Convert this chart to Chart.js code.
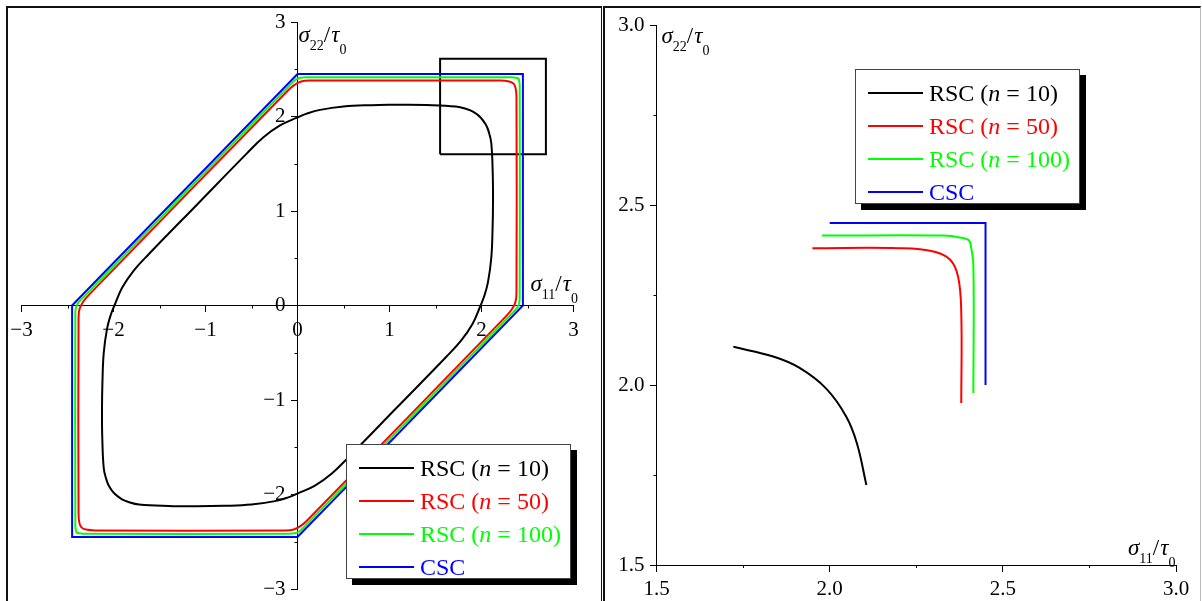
<!DOCTYPE html>
<html>
<head>
<meta charset="utf-8">
<script src="https://cdn.jsdelivr.net/npm/chart.js@4.4.1/dist/chart.umd.min.js"></script>
<style>
body{margin:0;background:#fff;width:1202px;height:601px;overflow:hidden;position:relative;font-family:"Liberation Serif",serif;}
.frame{position:absolute;top:6px;height:601px;border-top:2px solid #111;box-sizing:border-box;}
#frameL{left:6px;width:596px;border-left:2px solid #111;border-right:1px solid #111;}
#frameR{left:603px;width:598px;border-left:2px solid #111;border-right:1px solid #bbb;}
canvas{position:absolute;top:0;}
#cL{left:0;}
#cR{left:607px;}
.legend{position:absolute;width:225px;height:135px;background:#fff;border:1px solid #444;box-shadow:6px 6px 0 #000;box-sizing:border-box;font-size:24px;}
.legend .row{position:absolute;left:0;height:30px;line-height:30px;white-space:nowrap;}
.legend .swatch{position:absolute;left:12px;top:14px;width:55px;height:2px;}
.legend .txt{position:absolute;left:73px;top:0;}
</style>
</head>
<body>
<div class="frame" id="frameL"></div>
<div class="frame" id="frameR"></div>
<canvas id="cL" width="602" height="601"></canvas>
<canvas id="cR" width="595" height="601"></canvas>
<div class="legend" id="legL" style="left:346px;top:444px;"></div>
<div class="legend" id="legR" style="left:855px;top:69px;"></div>
<script>
// axis ticks
const leftTicks = [-3, -2, -1, 0, 1, 2, 3];
const leftMinor = [-2.5, -1.5, -0.5, 0.5, 1.5, 2.5];
const rightTicks = [1.5, 2.0, 2.5, 3.0];
const rightMinor = [1.75, 2.25, 2.75];

const seriesNames = ['RSC (n = 10)', 'RSC (n = 50)', 'RSC (n = 100)', 'CSC'];
const seriesColors = ['#000000', '#ff0000', '#00ff00', '#0000ff'];

// whole yield surfaces (sigma11/tau0, sigma22/tau0), left panel
const rsc10 = [[1.1,2.125],[1.4,2.122],[1.722,2.106],[1.837,2.079],[1.912,2.048],[1.99,1.99],[2.048,1.912],[2.079,1.837],[2.106,1.722],[2.122,1.4],[2.125,1.1],[2.12,0.8],[2.106,0.5],[2.07,0.245],[2.03,0.1],[1.99,0],[1.905,-0.19],[1.78,-0.37],[1.61,-0.55],[1.08,-1.08],[0.55,-1.61],[0.37,-1.78],[0.19,-1.905],[0,-1.99],[-0.1,-2.03],[-0.245,-2.07],[-0.5,-2.106],[-0.8,-2.12],[-1.1,-2.125],[-1.4,-2.122],[-1.722,-2.106],[-1.837,-2.079],[-1.912,-2.048],[-1.99,-1.99],[-2.048,-1.912],[-2.079,-1.837],[-2.106,-1.722],[-2.122,-1.4],[-2.125,-1.1],[-2.12,-0.8],[-2.106,-0.5],[-2.07,-0.245],[-2.03,-0.1],[-1.99,0],[-1.905,0.19],[-1.78,0.37],[-1.61,0.55],[-1.08,1.08],[-0.55,1.61],[-0.37,1.78],[-0.19,1.905],[0,1.99],[0.1,2.03],[0.245,2.07],[0.5,2.106],[0.8,2.12],[1.1,2.125]];
const rsc50 = [[1.2,2.38],[2.2,2.38],[2.3,2.371],[2.348,2.348],[2.371,2.3],[2.38,2.2],[2.38,0.14],[2.37,0.04],[2.33,-0.04],[2.26,-0.12],[0.12,-2.26],[0.04,-2.33],[-0.04,-2.37],[-0.14,-2.38],[-2.2,-2.38],[-2.3,-2.371],[-2.348,-2.348],[-2.371,-2.3],[-2.38,-2.2],[-2.38,-0.14],[-2.37,-0.04],[-2.33,0.04],[-2.26,0.12],[-0.12,2.26],[-0.04,2.33],[0.04,2.37],[0.14,2.38],[1.2,2.38]];
const rsc100 = [[1.2,2.415],[2.33,2.415],[2.385,2.408],[2.402,2.402],[2.408,2.385],[2.415,2.33],[2.415,0.1],[2.41,0.03],[2.39,-0.02],[2.345,-0.07],[0.07,-2.345],[0.02,-2.39],[-0.03,-2.41],[-0.1,-2.415],[-2.33,-2.415],[-2.385,-2.408],[-2.402,-2.402],[-2.408,-2.385],[-2.415,-2.33],[-2.415,-0.1],[-2.41,-0.03],[-2.39,0.02],[-2.345,0.07],[-0.07,2.345],[-0.02,2.39],[0.03,2.41],[0.1,2.415],[1.2,2.415]];
const csc = [[2.45,0],[2.45,2.45],[0,2.45],[-2.45,0],[-2.45,-2.45],[0,-2.45],[2.45,0]];
const zoomBox = [[1.55,1.6],[2.7,1.6],[2.7,2.61],[1.55,2.61],[1.55,1.6]];

// corner detail, right panel
const rsc10Zoom = [[1.722,2.106],[1.837,2.079],[1.912,2.048],[1.99,1.99],[2.048,1.912],[2.079,1.837],[2.106,1.722]];
const rsc50Zoom = [[1.95,2.38],[2.2,2.38],[2.3,2.371],[2.348,2.348],[2.371,2.3],[2.38,2.2],[2.38,1.95]];
const rsc100Zoom = [[1.978,2.415],[2.33,2.415],[2.385,2.408],[2.402,2.402],[2.408,2.385],[2.415,2.33],[2.415,1.978]];
const cscZoom = [[2.0,2.45],[2.45,2.45],[2.45,2.0]];

const serif = 'Liberation Serif';
const tickFont = '21px "' + serif + '"';

function xy(arr) { return arr.map(p => ({x: p[0], y: p[1]})); }

function curve(arr, i, tension) {
  return {
    label: seriesNames[i], data: xy(arr), borderColor: seriesColors[i],
    borderWidth: 2, showLine: true, pointRadius: 0, tension: tension, fill: false
  };
}

function minus(v) { return v < 0 ? '\u2212' + Math.abs(v) : String(v); }
function oneDec(v) { return v.toFixed(1); }

function scaleOpts(min, max, ticks, pos, fmt, showLabels) {
  return {
    type: 'linear', min: min, max: max, position: pos,
    afterBuildTicks: s => { s.ticks = ticks.map(v => ({value: v})); },
    ticks: {display: showLabels, callback: fmt, color: '#000', font: {family: serif, size: 21}, padding: 6, autoSkip: false, maxRotation: 0},
    grid: {drawOnChartArea: false, drawTicks: true, tickLength: 6, tickColor: '#000', tickWidth: 1},
    border: {display: true, color: '#000', width: 1}
  };
}

// small ticks between the labelled ones
const minorTicks = {
  id: 'minorTicks',
  afterDraw(chart, args, o) {
    const {ctx, scales: {x, y}} = chart;
    const xAxisPix = y.getPixelForValue(o.at);
    const yAxisPix = x.getPixelForValue(o.at);
    ctx.save();
    ctx.strokeStyle = '#000';
    ctx.lineWidth = 1;
    ctx.beginPath();
    o.values.forEach(v => {
      const px = Math.round(x.getPixelForValue(v)) + 0.5;
      ctx.moveTo(px, xAxisPix);
      ctx.lineTo(px, xAxisPix + 3);
      const py = Math.round(y.getPixelForValue(v)) + 0.5;
      ctx.moveTo(yAxisPix, py);
      ctx.lineTo(yAxisPix - 3, py);
    });
    ctx.stroke();
    ctx.restore();
  }
};

// y tick labels, set off to the left of the ticks
const yLabels = {
  id: 'yLabels',
  afterDraw(chart, args, o) {
    const {ctx, scales: {x, y}} = chart;
    const axisPix = x.getPixelForValue(o.at);
    ctx.save();
    ctx.fillStyle = '#000';
    ctx.font = tickFont;
    ctx.textAlign = 'right';
    ctx.textBaseline = 'middle';
    y.ticks.forEach(t => ctx.fillText(o.fmt(t.value), axisPix - 12, y.getPixelForValue(t.value)));
    ctx.restore();
  }
};

function drawParts(ctx, x, y, parts) {
  parts.forEach(p => {
    ctx.font = (p.it ? 'italic ' : '') + p.size + 'px "' + serif + '"';
    ctx.fillText(p.t, x, y + (p.dy || 0));
    x += ctx.measureText(p.t).width + (p.gap || 0);
  });
}

function titleParts(sub) {
  return [
    {t: '\u03c3', it: true, size: 23},
    {t: sub, size: 14, dy: 8},
    {t: '/', size: 23, gap: 1},
    {t: '\u03c4', it: true, size: 23},
    {t: '0', size: 14, dy: 12}
  ];
}

// sigma/tau axis titles at the ends of the axes
const axisTitles = {
  id: 'axisTitles',
  afterDraw(chart, args, o) {
    const {ctx, chartArea, scales: {x, y}} = chart;
    ctx.save();
    ctx.fillStyle = '#000';
    ctx.textBaseline = 'alphabetic';
    drawParts(ctx, x.getPixelForValue(o.at) + o.yDx, chartArea.top + o.yDy, titleParts('22'));
    drawParts(ctx, chartArea.right + o.xDx, y.getPixelForValue(o.at) + o.xDy, titleParts('11'));
    ctx.restore();
  }
};

new Chart(document.getElementById('cL'), {
  type: 'scatter',
  data: {
    datasets: [
      curve(rsc10, 0, 0.4),
      curve(rsc50, 1, 0.4),
      curve(rsc100, 2, 0.4),
      curve(csc, 3, 0),
      {label: 'box', data: xy(zoomBox), borderColor: '#000', borderWidth: 2, showLine: true, pointRadius: 0, tension: 0}
    ]
  },
  options: {
    responsive: false,
    animation: false,
    layout: {padding: {left: 21.5, right: 28.5, top: 22, bottom: 12}},
    plugins: {
      legend: {display: false},
      tooltip: {enabled: false},
      minorTicks: {at: 0, values: leftMinor},
      yLabels: {at: 0, fmt: minus},
      axisTitles: {at: 0, yDx: 1, yDy: 20, xDx: -43, xDy: -15}
    },
    scales: {
      x: scaleOpts(-3, 3, leftTicks, {y: 0}, minus, true),
      y: scaleOpts(-3, 3, leftTicks, {x: 0}, minus, false)
    }
  },
  plugins: [minorTicks, yLabels, axisTitles]
});

new Chart(document.getElementById('cR'), {
  type: 'scatter',
  data: {
    datasets: [
      curve(rsc10Zoom, 0, 0.4),
      curve(rsc50Zoom, 1, 0.4),
      curve(rsc100Zoom, 2, 0.4),
      curve(cscZoom, 3, 0)
    ]
  },
  options: {
    responsive: false,
    animation: false,
    layout: {padding: {left: 49.5, right: 26, top: 25, bottom: 36}},
    plugins: {
      legend: {display: false},
      tooltip: {enabled: false},
      minorTicks: {at: 1.5, values: rightMinor},
      yLabels: {at: 1.5, fmt: oneDec},
      axisTitles: {at: 1.5, yDx: 5, yDy: 18, xDx: -48, xDy: -10}
    },
    scales: {
      x: scaleOpts(1.5, 3, rightTicks, {y: 1.5}, oneDec, true),
      y: scaleOpts(1.5, 3, rightTicks, {x: 1.5}, oneDec, false)
    }
  },
  plugins: [minorTicks, yLabels, axisTitles]
});

function buildLegend(el) {
  seriesNames.forEach((name, i) => {
    const row = document.createElement('div');
    row.className = 'row';
    row.style.top = (8 + 33 * i) + 'px';
    row.style.color = seriesColors[i];
    row.innerHTML = '<span class="swatch" style="background:' + seriesColors[i] + '"></span>' +
      '<span class="txt">' + name.replace('(n', '(<i>n</i>') + '</span>';
    el.appendChild(row);
  });
}
buildLegend(document.getElementById('legL'));
buildLegend(document.getElementById('legR'));
</script>
</body>
</html>
